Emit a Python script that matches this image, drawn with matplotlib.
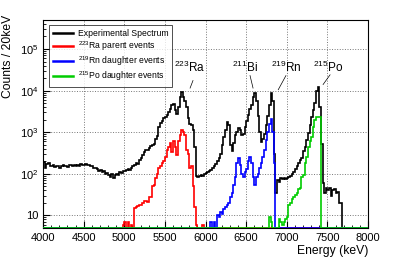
import numpy as np
import matplotlib
matplotlib.use("Agg")
import matplotlib.pyplot as plt
from matplotlib.ticker import MultipleLocator, LogLocator, FuncFormatter

plt.rcParams['font.family'] = ['Liberation Sans', 'DejaVu Sans']
plt.rcParams['mathtext.fontset'] = 'custom'
plt.rcParams['mathtext.rm'] = 'Liberation Sans'

# histogram binning (keV)
e_min, e_max, bin_w = 4000, 8000, 20

# experimental spectrum, counts per 20 keV bin starting at 4000 keV
exp_start = 4000
exp_counts = [
    190, 140, 175, 180, 155, 150, 160, 145, 155, 150,
    140, 150, 160, 150, 155, 145, 160, 165, 155, 160,
    150, 165, 155, 170, 160, 165, 175, 160, 165, 155,
    150, 140, 135, 130, 120, 125, 110, 115, 100, 105,
    95, 85, 100, 80, 95, 100, 95, 110, 105, 120,
    115, 125, 130, 125, 140, 150, 165, 180, 175, 210,
    240, 280, 330, 370, 380, 420, 470, 480, 520, 700,
    800, 1300, 1700, 1900, 2200, 2300, 2600, 3000, 3600, 4500,
    4800, 3500, 2800, 4000, 6900, 9500, 7000, 5500, 4000, 2200,
    1600, 1500, 1100, 450, 90, 85, 90, 95, 90, 100,
    105, 110, 120, 125, 140, 150, 170, 200, 240, 300,
    480, 750, 1100, 1800, 1500, 500, 350, 550, 850, 1000,
    1250, 1100, 850, 900, 1300, 1900, 2600, 3600, 4500, 6900,
    9000, 5700, 2500, 1000, 580, 700, 900, 1500, 2500, 4500,
    9000, 5500, 300, 35, 70, 65, 80, 75, 80, 75,
    80, 85, 90, 100, 110, 130, 150, 180, 210, 240,
    350, 450, 650, 950, 1500, 2300, 3500, 5000, 10000, 12500,
    4000, 530, 60, 35, 45, 40, 45, 30, 40, 42,
    35, 36, 20, 20,
]

# 223Ra parent events
ra_start = 4980
ra_counts = [
    6, 7, 5, 7, 0, 6, 5, 15, 16, 17,
    18, 18, 20, 22, 22, 21, 28, 28, 50, 55,
    80, 100, 135, 150, 180, 200, 260, 370, 450, 540,
    340, 600, 450, 280, 600, 850, 1150, 1000, 850, 370,
    300, 135, 150, 50, 16, 6, 0, 0, 0, 6,
]

# 219Rn daughter events
rn_start = 6060
rn_counts = [
    7, 0, 7, 0, 10, 9, 12, 11, 14, 16,
    18, 20, 28, 35, 55, 85, 180, 235, 160, 100,
    85, 110, 130, 200, 260, 180, 85, 55, 85, 100,
    135, 180, 260, 370, 640, 1000, 1600, 2100, 1000, 180,
]

# 215Po daughter events
po_start = 6780
po_counts = [
    9, 7, 0, 0, 0, 0, 8, 7, 6, 7,
    8, 9, 18, 20, 25, 28, 31, 35, 42, 45,
    85, 95, 180, 250, 445, 600, 770, 1300, 2000, 2300,
    2300, 2300,
]

series = [
    ("Experimental Spectrum", exp_start, exp_counts, "black"),
    ("$^{223}$Ra parent events", ra_start, ra_counts, "#ff0000"),
    ("$^{219}$Rn daughter events", rn_start, rn_counts, "#0000ff"),
    ("$^{215}$Po daughter events", po_start, po_counts, "#00cc00"),
]

labels = ["$^{223}$Ra", "$^{211}$Bi", "$^{219}$Rn", "$^{215}$Po"]
label_xy = [(5800, 3.6e4), (6480, 3.6e4), (7000, 3.6e4), (7510, 3.6e4)]
line_from = [(5810, 1.15e4), (6585, 1.15e4), (6895, 1.05e4), (7447, 1.4e4)]
line_to = [(5846, 1.75e4), (6548, 2.3e4), (6990, 2.3e4), (7533, 2.4e4)]

y_lo, y_hi = 5, 5e5
edges = np.arange(e_min, e_max + bin_w, bin_w)

fig = plt.figure(figsize=(4.07, 2.59), dpi=100)
ax = fig.add_axes([0.1057, 0.12, 0.7985, 0.803])

for name, start, counts, col in series:
    full = np.zeros(len(edges) - 1)
    i0 = (start - e_min) // bin_w
    full[i0:i0 + len(counts)] = counts
    full = np.maximum(full, y_lo)  # empty bins sit on the axis like ROOT
    ax.stairs(full, edges, color=col, lw=1.2, label=name, zorder=3)

ax.set_yscale("log")
ax.set_xlim(e_min, e_max)
ax.set_ylim(y_lo, y_hi)

ax.xaxis.set_major_locator(MultipleLocator(500))
ax.xaxis.set_minor_locator(MultipleLocator(100))
ax.yaxis.set_major_locator(LogLocator(base=10, numticks=10))
ax.yaxis.set_minor_locator(LogLocator(base=10, subs=np.arange(2, 10), numticks=20))


def fmt(v, pos):
    n = int(round(np.log10(v)))
    if n == 1:
        return "10"
    return "$10^{%d}$" % n


ax.yaxis.set_major_formatter(FuncFormatter(fmt))
ax.tick_params(which="both", direction="in", labelsize=8)
ax.tick_params(which="major", length=5)
ax.tick_params(which="minor", length=2.5)
ax.grid(True, which="major", ls=":", color="#777777", lw=0.7)
for s in ax.spines.values():
    s.set_linewidth(0.8)

ax.set_xlabel("Energy (keV)", fontsize=8.7, loc="right")
ax.xaxis.set_label_coords(1.0, -0.082)
ax.set_ylabel("Counts / 20keV", fontsize=8.7, loc="top")
ax.yaxis.set_label_coords(-0.09, 1.025)

for lab, (tx, ty), (x0, y0), (x1, y1) in zip(labels, label_xy, line_from, line_to):
    ax.text(tx, ty, lab, fontsize=8.5, ha="center", va="center")
    ax.plot([x0, x1], [y0, y1], color="black", lw=0.5)

leg = ax.legend(loc="upper left", bbox_to_anchor=(0.018, 0.976), fontsize=6.2,
                frameon=True, fancybox=False, edgecolor="black",
                handlelength=2.3, handletextpad=0.6, borderpad=0.45,
                labelspacing=0.15, borderaxespad=0)
leg.get_frame().set_linewidth(0.6)
for h in leg.get_lines():
    h.set_linewidth(1.8)

fig.savefig("out.png", dpi=100)
